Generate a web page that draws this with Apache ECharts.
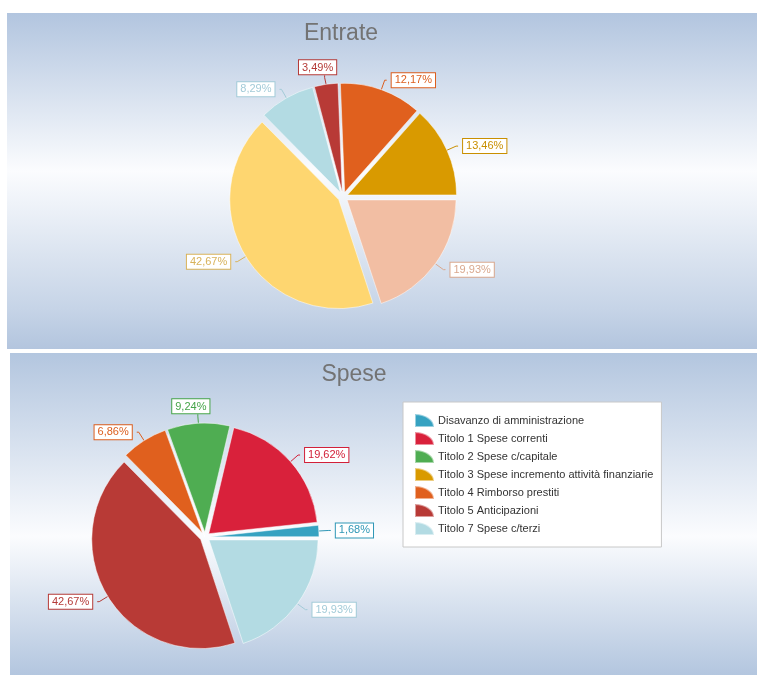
<!DOCTYPE html>
<html>
<head>
<meta charset="utf-8">
<title>Entrate / Spese</title>
<script src="https://cdn.jsdelivr.net/npm/echarts@6/dist/echarts.min.js"></script>
<style>
html, body { margin: 0; padding: 0; background: #fff; }
#main { width: 757px; height: 675px; }
</style>
</head>
<body>
<div id="main"></div>
<script>
// Entrate - ordine antiorario partendo da ore 3
var entrateNomi = ['Titolo 1 Entrate tributarie', 'Titolo 2 Trasferimenti correnti', 'Titolo 3 Entrate extratributarie',
	'Titolo 4 Entrate in conto capitale', 'Titolo 7 Anticipazioni da tesoriere', 'Titolo 9 Entrate c/terzi'];
var entrateValori = [13.46, 12.17, 3.49, 8.29, 42.67, 19.93];
var entrateColori = ['#d99a00', '#e0601e', '#b83a36', '#b3dbe3', '#fed670', '#f2bea3'];
var entrateColoriEtichetta = ['#c98f00', '#dc5e1e', '#b53a37', '#a3cbd8', '#d8b25a', '#d9a88e'];

// Spese - stesso ordine della legenda
var speseNomi = ['Disavanzo di amministrazione', 'Titolo 1 Spese correnti', 'Titolo 2 Spese c/capitale',
	'Titolo 3 Spese incremento attività finanziarie', 'Titolo 4 Rimborso prestiti', 'Titolo 5 Anticipazioni',
	'Titolo 7 Spese c/terzi'];
var speseValori = [1.68, 19.62, 9.24, 0, 6.86, 42.67, 19.93];
var speseColori = ['#36a2c1', '#d9213b', '#4fad52', '#d99a00', '#e0601e', '#b83a36', '#b3dbe3'];
var speseColoriEtichetta = ['#2f97b6', '#d22039', '#46a449', '#c98f00', '#dc5e1e', '#b53a37', '#a3cbd8'];

var chart;

/* ------------------------------------ funzioni ------------------------------------ */
function formatPerc(v) {
	return v.toFixed(2).replace('.', ',') + '%';
}

// costruisce i dati della torta (tutte le fette "esplose")
function buildData(nomi, valori, colori, coloriEt) {
	var arr = [];
	for (var i = 0; i < nomi.length; i++) {
		var item = {
			name: nomi[i],
			value: valori[i],
			selected: valori[i] > 0,
			itemStyle: { color: colori[i] },
			label: { color: coloriEt[i], borderColor: coloriEt[i] },
			labelLine: { lineStyle: { color: coloriEt[i] } }
		};
		if (valori[i] === 0) {
			item.label.show = false;
			item.labelLine.show = false;
		}
		arr.push(item);
	}
	return arr;
}

// etichette quasi verticali: centrate sopra/sotto la linea
function centraEtichetta(params) {
	var pts = params.labelLinePoints;
	if (!pts) {
		return {};
	}
	var dx = pts[1][0] - pts[0][0];
	var dy = pts[1][1] - pts[0][1];
	if (Math.abs(dx) < 0.3 * Math.abs(dy)) {
		return {
			x: pts[1][0],
			y: pts[1][1],
			align: 'center',
			verticalAlign: dy < 0 ? 'bottom' : 'top'
		};
	}
	return {};
}

function pieSerie(nome, center, data) {
	return {
		name: nome,
		type: 'pie',
		center: center,
		radius: 109,
		startAngle: 0,
		clockwise: false,
		selectedMode: 'multiple',
		selectedOffset: 5,
		avoidLabelOverlap: false,
		animation: false,
		itemStyle: { borderColor: 'rgba(255,255,255,0.5)', borderWidth: 1 },
		label: {
			show: true,
			position: 'outside',
			formatter: function (p) { return formatPerc(p.value); },
			fontFamily: 'Liberation Sans',
			fontSize: 11,
			backgroundColor: '#ffffff',
			borderWidth: 1,
			padding: [2, 3, 1, 3]
		},
		labelLine: { show: true, length: 10, length2: 2, lineStyle: { width: 1 } },
		labelLayout: centraEtichetta,
		emphasis: { disabled: true },
		data: data
	};
}

function sfondo(x, y, w, h, stops) {
	return {
		type: 'rect',
		z: -10,
		silent: true,
		shape: { x: x, y: y, width: w, height: h },
		style: { fill: new echarts.graphic.LinearGradient(0, 0, 0, 1, stops) }
	};
}

function titolo(testo, x, y) {
	return {
		type: 'text',
		z: 10,
		silent: true,
		style: {
			text: testo, x: x, y: y,
			textAlign: 'center', textVerticalAlign: 'middle',
			font: '23px "Liberation Sans"', fill: '#737373'
		}
	};
}

chart = echarts.init(document.getElementById('main'));

var option = {
	backgroundColor: '#ffffff',
	graphic: [
		sfondo(7, 13, 750, 336, [
			{ offset: 0, color: '#b2c5df' },
			{ offset: 0.47, color: '#fbfcfe' },
			{ offset: 0.88, color: '#c6d4e7' },
			{ offset: 1, color: '#b3c5de' }
		]),
		sfondo(10, 353, 747, 322, [
			{ offset: 0, color: '#b3c6df' },
			{ offset: 0.57, color: '#fbfcfe' },
			{ offset: 1, color: '#b3c6df' }
		]),
		titolo('Entrate', 341, 34),
		titolo('Spese', 354, 375)
	],
	legend: {
		data: speseNomi,
		orient: 'vertical',
		left: 403,
		top: 402,
		padding: [11, 8, 11, 11],
		itemGap: 3,
		itemWidth: 19,
		itemHeight: 13,
		selectedMode: false,
		icon: 'path://M0,13 L0,0 A19,13 0 0 1 19,13 Z',
		backgroundColor: '#ffffff',
		borderColor: '#c8c8c8',
		borderWidth: 1,
		textStyle: { fontFamily: 'Liberation Sans', fontSize: 11, color: '#333333', padding: [0, 0, 0, -1] }
	},
	series: [
		pieSerie('Entrate', [343, 197], buildData(entrateNomi, entrateValori, entrateColori, entrateColoriEtichetta)),
		pieSerie('Spese', [205, 537], buildData(speseNomi, speseValori, speseColori, speseColoriEtichetta))
	]
};
chart.setOption(option);
</script>
</body>
</html>
